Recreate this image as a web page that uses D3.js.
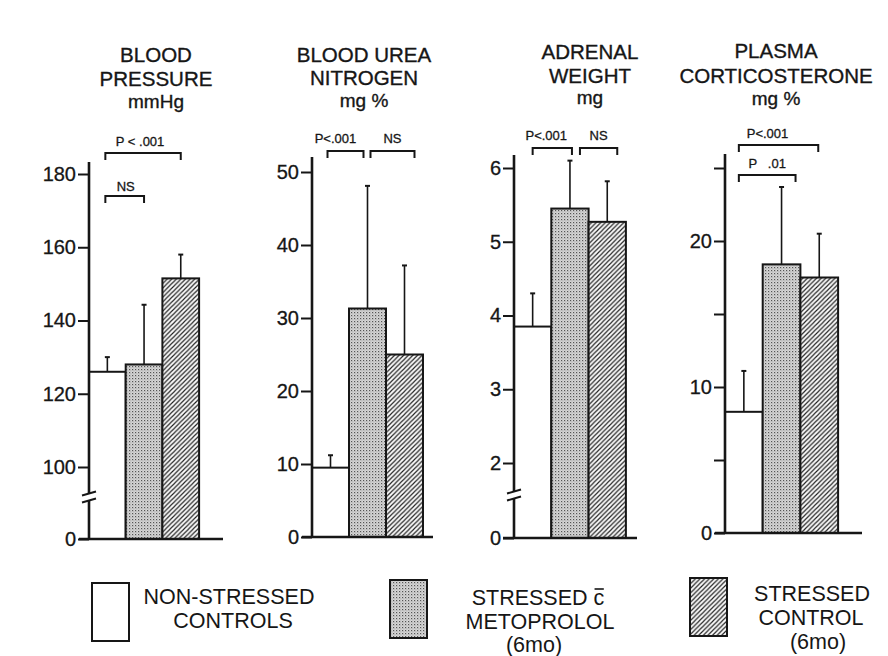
<!DOCTYPE html>
<html><head><meta charset="utf-8">
<script src="https://cdn.jsdelivr.net/npm/d3@7"></script>
<style>
body{margin:0;background:#fff}
svg{display:block}
text{font-family:"Liberation Sans",Arial,sans-serif;fill:#161616}
</style>
</head><body>
<svg id="c" width="888" height="656"></svg>
<script>
// ---- data ----
const groups = ["Non-stressed controls", "Stressed c metoprolol (6mo)", "Stressed control (6mo)"];
const titles = [["BLOOD","PRESSURE","mmHg"],["BLOOD UREA","NITROGEN","mg %"],["ADRENAL","WEIGHT","mg"],["PLASMA","CORTICOSTERONE","mg %"]];
const bpMean  = [126, 128, 151.5];
const bpErr   = [4, 16.3, 6.5];
const bunMean = [9.5, 31.3, 25];
const bunErr  = [1.7, 16.8, 12.2];
const adrMean = [3.85, 5.45, 5.27];
const adrErr  = [0.45, 0.65, 0.55];
const corMean = [8.3, 18.4, 17.5];
const corErr  = [2.8, 5.3, 3.0];
const bpTicks  = [0, 100, 120, 140, 160, 180];
const bunTicks = [0, 10, 20, 30, 40, 50];
const adrTicks = [0, 2, 3, 4, 5, 6];
const corTicks = [0, 5, 10, 15, 20, 25];
const corTickLabels = ["0", "", "10", "", "20", ""];
const sigBP  = [{a:0,b:2,label:"P < .001"},{a:0,b:1,label:"NS"}];
const sigBUN = [{a:0,b:1,label:"P<.001"},{a:1,b:2,label:"NS"}];
const sigADR = [{a:0,b:1,label:"P<.001"},{a:1,b:2,label:"NS"}];
const sigCOR = [{a:0,b:2,label:"P<.001"},{a:0,b:1,label:"P   .01"}];
const legendLines = [["NON-STRESSED","CONTROLS"],["STRESSED c","METOPROLOL","(6mo)"],["STRESSED","CONTROL","(6mo)"]];

// ---- layout ----
const panels = [
  {mean:bpMean, err:bpErr, ticks:bpTicks, labels:null, sig:sigBP, title:titles[0],
   ax:89, bw:36.7, dom:[0,100,180], rng:[539,467,174], top:162, xl:79, xr:223, brk:497,
   tx:156, ty:[62,86,108],
   br:[{y:153,ty:146,d0:-2,d1:0,tdx:-3},{y:196,ty:191,d0:-2,d1:0,tdx:1}]},
  {mean:bunMean, err:bunErr, ticks:bunTicks, labels:null, sig:sigBUN, title:titles[1],
   ax:312, bw:37, dom:[0,50], rng:[537,172], top:157, xl:302, xr:433, brk:null,
   tx:364, ty:[62,85,107],
   br:[{y:151,ty:143,d0:-3,d1:-4,tdx:-10},{y:151,ty:143,d0:3,d1:10,tdx:0}]},
  {mean:adrMean, err:adrErr, ticks:adrTicks, labels:null, sig:sigADR, title:titles[2],
   ax:514, bw:37.3, dom:[0,2,6], rng:[538,463,168], top:155, xl:503, xr:637, brk:495,
   tx:590, ty:[59,83,104],
   br:[{y:148,ty:140,d0:0,d1:2,tdx:-6},{y:148,ty:140,d0:10,d1:10,tdx:0}]},
  {mean:corMean, err:corErr, ticks:corTicks, labels:corTickLabels, sig:sigCOR, title:titles[3],
   ax:725, bw:37.7, dom:[0,25], rng:[533,168], top:154, xl:715, xr:862, brk:null,
   tx:776, ty:[58,83,105],
   br:[{y:145,ty:138,d0:-5,d1:-1,tdx:-11},{y:175,ty:168,d0:-5,d1:14,tdx:0}]}
];

const svg = d3.select("#c");
svg.append("rect").attr("width",888).attr("height",656).attr("fill","#fff");

// patterns
const defs = svg.append("defs");
const dots = defs.append("pattern").attr("id","dots").attr("patternUnits","userSpaceOnUse").attr("width",3).attr("height",3);
dots.append("rect").attr("width",3).attr("height",3).attr("fill","#d6d6d6");
dots.append("rect").attr("x",0).attr("y",0).attr("width",1.2).attr("height",1.2).attr("fill","#555");
dots.append("rect").attr("x",1.5).attr("y",1.5).attr("width",0.9).attr("height",0.9).attr("fill","#8a8a8a");
const hatch = defs.append("pattern").attr("id","hatch").attr("patternUnits","userSpaceOnUse").attr("width",4.6).attr("height",4.6);
hatch.append("rect").attr("width",4.6).attr("height",4.6).attr("fill","#fafafa");
hatch.append("path").attr("d","M-1,1 L1,-1 M0,4.6 L4.6,0 M3.6,5.6 L5.6,3.6").attr("stroke","#222").attr("stroke-width",1.15);
const fills = ["#ffffff","url(#dots)","url(#hatch)"];

const ink = "#161616";

panels.forEach(p => {
  const g = svg.append("g");
  const x = d3.scaleBand().domain(d3.range(3)).range([p.ax, p.ax + 3*p.bw]).padding(0);
  const y = d3.scaleLinear().domain(p.dom).range(p.rng);
  const base = y(0);

  // title lines (units line slightly smaller, as lettered)
  p.title.forEach((t,i) => {
    g.append("text").attr("x",p.tx).attr("y",p.ty[i]).attr("text-anchor","middle")
      .attr("font-size", i===2 ? 19 : 20.5).attr("stroke",ink).attr("stroke-width",0.35).text(t);
  });

  // bars
  g.selectAll("rect.bar").data(p.mean).join("rect").attr("class","bar")
    .attr("x",(d,i)=>x(i)).attr("width",x.bandwidth())
    .attr("y",d=>y(d)).attr("height",d=>base-y(d))
    .attr("fill",(d,i)=>fills[i]).attr("stroke",ink).attr("stroke-width",2);

  // error bars
  p.mean.forEach((m,i) => {
    const cx = x(i) + x.bandwidth()/2;
    const top = y(m + p.err[i]);
    g.append("line").attr("x1",cx).attr("x2",cx).attr("y1",y(m)).attr("y2",top).attr("stroke",ink).attr("stroke-width",1.6);
    g.append("line").attr("x1",cx-2.5).attr("x2",cx+2.5).attr("y1",top).attr("y2",top).attr("stroke",ink).attr("stroke-width",2);
  });

  // axis ticks + labels
  const axis = d3.axisLeft(y).tickValues(p.ticks).tickSize(11).tickPadding(2)
    .tickFormat((d,i)=> p.labels ? p.labels[i] : d3.format("d")(d));
  const ag = g.append("g").attr("transform",`translate(${p.ax},0)`).call(axis);
  ag.select(".domain").remove();
  ag.selectAll(".tick line").attr("stroke",ink).attr("stroke-width",2);
  ag.selectAll(".tick text").attr("font-size",20).attr("fill",ink).attr("stroke",ink).attr("stroke-width",0.3)
    .attr("font-family",'"Liberation Sans",Arial,sans-serif');

  // axis line & baseline
  g.append("line").attr("x1",p.ax).attr("x2",p.ax).attr("y1",p.top).attr("y2",base+1).attr("stroke",ink).attr("stroke-width",2.6);
  g.append("line").attr("x1",p.xl).attr("x2",p.xr).attr("y1",base).attr("y2",base).attr("stroke",ink).attr("stroke-width",2.4);

  // axis break
  if (p.brk) {
    g.append("rect").attr("x",p.ax-3).attr("y",p.brk-3).attr("width",6).attr("height",6).attr("fill","#fff");
    [-3.5,3.5].forEach(o => {
      g.append("line").attr("x1",p.ax-7).attr("x2",p.ax+7).attr("y1",p.brk+o+2).attr("y2",p.brk+o-2)
        .attr("stroke",ink).attr("stroke-width",2);
    });
  }

  // significance brackets
  p.sig.forEach((s,k) => {
    const L = p.br[k];
    const x0 = x(s.a) + x.bandwidth()/2 + L.d0;
    const x1 = x(s.b) + x.bandwidth()/2 + L.d1;
    g.append("path").attr("d",`M${x0},${L.y+7}V${L.y}H${x1}V${L.y+7}`)
      .attr("fill","none").attr("stroke",ink).attr("stroke-width",2);
    g.append("text").attr("x",(x0+x1)/2 + L.tdx).attr("y",L.ty).attr("text-anchor","middle")
      .attr("font-size",13).attr("stroke",ink).attr("stroke-width",0.3)
      .style("white-space","pre").text(s.label);
  });
});

// legend
const legendBoxes = [{x:92,y:583},{x:390,y:580},{x:690,y:578}];
const legendText = [
  {cx:[229,233], by:[604,628]},
  {cx:[538,540,534], by:[605,629,652]},
  {cx:[812,811,818], by:[601,625,649]}
];
groups.forEach((gname,i) => {
  const b = legendBoxes[i];
  svg.append("rect").attr("x",b.x).attr("y",b.y).attr("width",37).attr("height",58)
    .attr("fill",fills[i]).attr("stroke",ink).attr("stroke-width",2);
  const lt = svg.append("text").attr("text-anchor","middle").attr("font-size",21.5);
  legendLines[i].forEach((t,j) => {
    lt.append("tspan").attr("x",legendText[i].cx[j]).attr("y",legendText[i].by[j]).text(t);
  });
  if (i===1) {
    // overline on the "c"
    const t = legendLines[1][0];
    const n = t.length;
    const st = lt.node().getStartPositionOfChar(n-1);
    const en = lt.node().getEndPositionOfChar(n-1);
    svg.append("line").attr("x1",st.x+1).attr("x2",en.x-0.5).attr("y1",st.y-16).attr("y2",st.y-16)
      .attr("stroke",ink).attr("stroke-width",1.6);
  }
});
</script>
</body></html>
